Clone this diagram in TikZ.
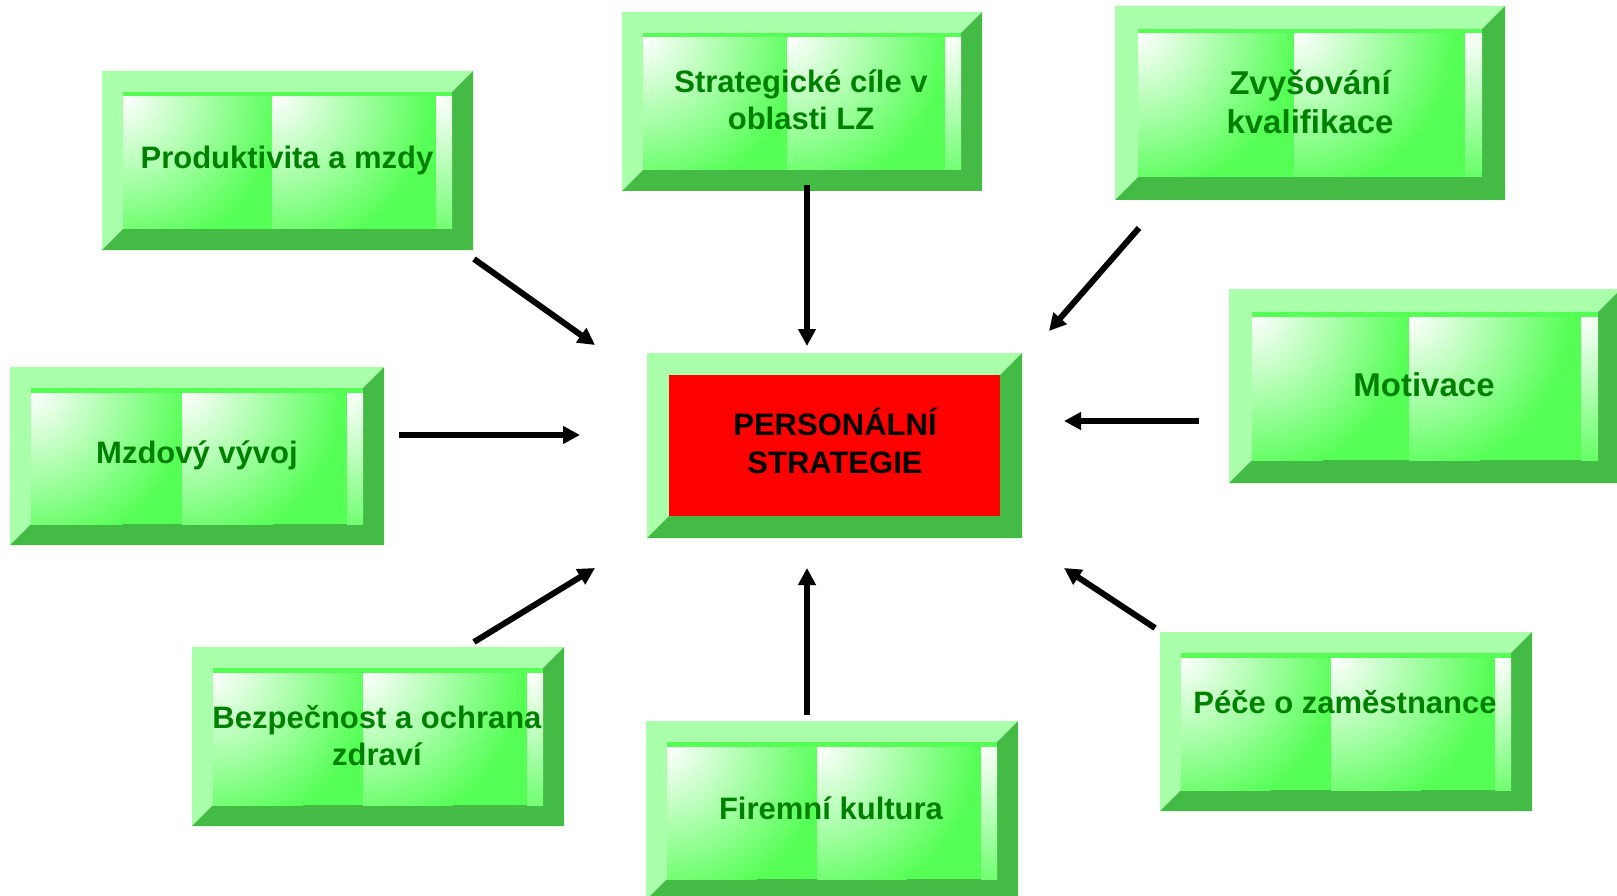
\documentclass[tikz,border=0pt]{standalone}
\usepackage{fontspec}
\setmainfont{Liberation Sans}
\usetikzlibrary{arrows.meta}
\definecolor{lightbev}{RGB}{170,255,170}
\definecolor{darkbev}{RGB}{68,187,68}
\definecolor{facegreen}{RGB}{85,255,85}
\definecolor{txtgreen}{RGB}{0,128,0}
\definecolor{facered}{RGB}{255,0,0}
\tikzset{
  flow/.style={line width=6pt, -{Triangle[length=17pt,width=17pt]}},
  gtext/.style={text=txtgreen, font=\bfseries\fontsize{31}{37}\selectfont, align=center, inner sep=0pt},
  gtextbig/.style={gtext, font=\bfseries\fontsize{33}{39}\selectfont},
  rtext/.style={text=black, font=\bfseries\fontsize{31}{38}\selectfont, align=center, inner sep=0pt},
}
\newcommand{\bevelframe}[5]{%
  \fill[lightbev] ({#1},{#2}) -- ({#3},{#2}) -- ({#3-#5},{#2+#5}) -- ({#1+#5},{#2+#5}) -- ({#1+#5},{#4-#5}) -- ({#1},{#4}) -- cycle;
  \fill[darkbev] ({#3},{#2}) -- ({#3},{#4}) -- ({#1},{#4}) -- ({#1+#5},{#4-#5}) -- ({#3-#5},{#4-#5}) -- ({#3-#5},{#2+#5}) -- cycle;
}
\newcommand{\tiledface}[4]{%
  \pgfmathsetmacro{\xl}{(#1)}
  \pgfmathsetmacro{\yt}{(#2)}
  \pgfmathsetmacro{\xr}{(#3)}
  \pgfmathsetmacro{\yb}{(#4)}
  \fill[facegreen] (\xl,\yt) rectangle (\xr,\yb);
  \pgfmathsetmacro{\tw}{\xr-\xl}
  \pgfmathsetmacro{\xb}{\xl+0.455*\tw}
  \pgfmathsetmacro{\xc}{\xl+0.952*\tw}
  \pgfmathsetmacro{\ty}{\yt+5}
  \foreach \u/\v in {\xl/\xb,\xb/\xc,\xc/\xr} {
    \begin{scope}
      \clip (\u,\ty) rectangle (\v,\yb);
      \shade[inner color=white, outer color=facegreen] (\u,\ty) circle (160pt);
    \end{scope}
  }
}
\newcommand{\greenbox}[5]{%
  \bevelframe{#1}{#2}{#3}{#4}{#5}
  \tiledface{#1+#5}{#2+#5}{#3-#5}{#4-#5}
}
\begin{document}
\begin{tikzpicture}[x=1pt,y=-1pt]
\useasboundingbox (0,0) rectangle (1617,896);
\fill[white] (0,0) rectangle (1617,896);

% boxes
\greenbox{102}{71}{473}{250}{21}
\greenbox{622}{12}{982}{191}{21}
\greenbox{1115}{6}{1505}{200}{23}
\greenbox{1229}{289}{1621}{483}{23}
\greenbox{10}{367}{384}{545}{21}
\greenbox{192}{647}{564}{826}{21}
\greenbox{646}{721}{1018}{900}{21}
\greenbox{1160}{632}{1532}{811}{21}
\bevelframe{647}{353}{1022}{538}{22}
\fill[facered] (669,375) rectangle (1000,516);

% texts
\node[gtext] (prod) at (287,160) {Produktivita a mzdy};
\node[gtext] (strat) at (801,100) {Strategické cíle v\\oblasti LZ};
\node[gtextbig] (zvys) at (1310,102) {Zvyšování\\kvalifikace};
\node[gtextbig] (motiv) at (1424,385) {Motivace};
\node[gtext] (mzd) at (197,455) {Mzdový vývoj};
\node[rtext] (pers) at (835,441) {PERSONÁLNÍ\\STRATEGIE};
\node[gtext] (bezp) at (377,736) {Bezpečnost a ochrana\\zdraví};
\node[gtext] (firm) at (831,808) {Firemní kultura};
\node[gtext] (pece) at (1345,702) {Péče o zaměstnance};

% arrow end points
\coordinate (a1) at (474,259); \coordinate (a2) at (595,345);
\coordinate (b1) at (807,185); \coordinate (b2) at (807,346);
\coordinate (c1) at (1139,228); \coordinate (c2) at (1049,331);
\coordinate (d1) at (399,435); \coordinate (d2) at (580,435);
\coordinate (e1) at (1199,421); \coordinate (e2) at (1064,421);
\coordinate (f1) at (474,642); \coordinate (f2) at (595,568);
\coordinate (g1) at (807,715); \coordinate (g2) at (807,568);
\coordinate (h1) at (1155,628); \coordinate (h2) at (1064,568);

\draw[flow] (a1) -- (a2);
\draw[flow] (b1) -- (b2);
\draw[flow] (c1) -- (c2);
\draw[flow] (d1) -- (d2);
\draw[flow] (e1) -- (e2);
\draw[flow] (f1) -- (f2);
\draw[flow] (g1) -- (g2);
\draw[flow] (h1) -- (h2);
\end{tikzpicture}
\end{document}
